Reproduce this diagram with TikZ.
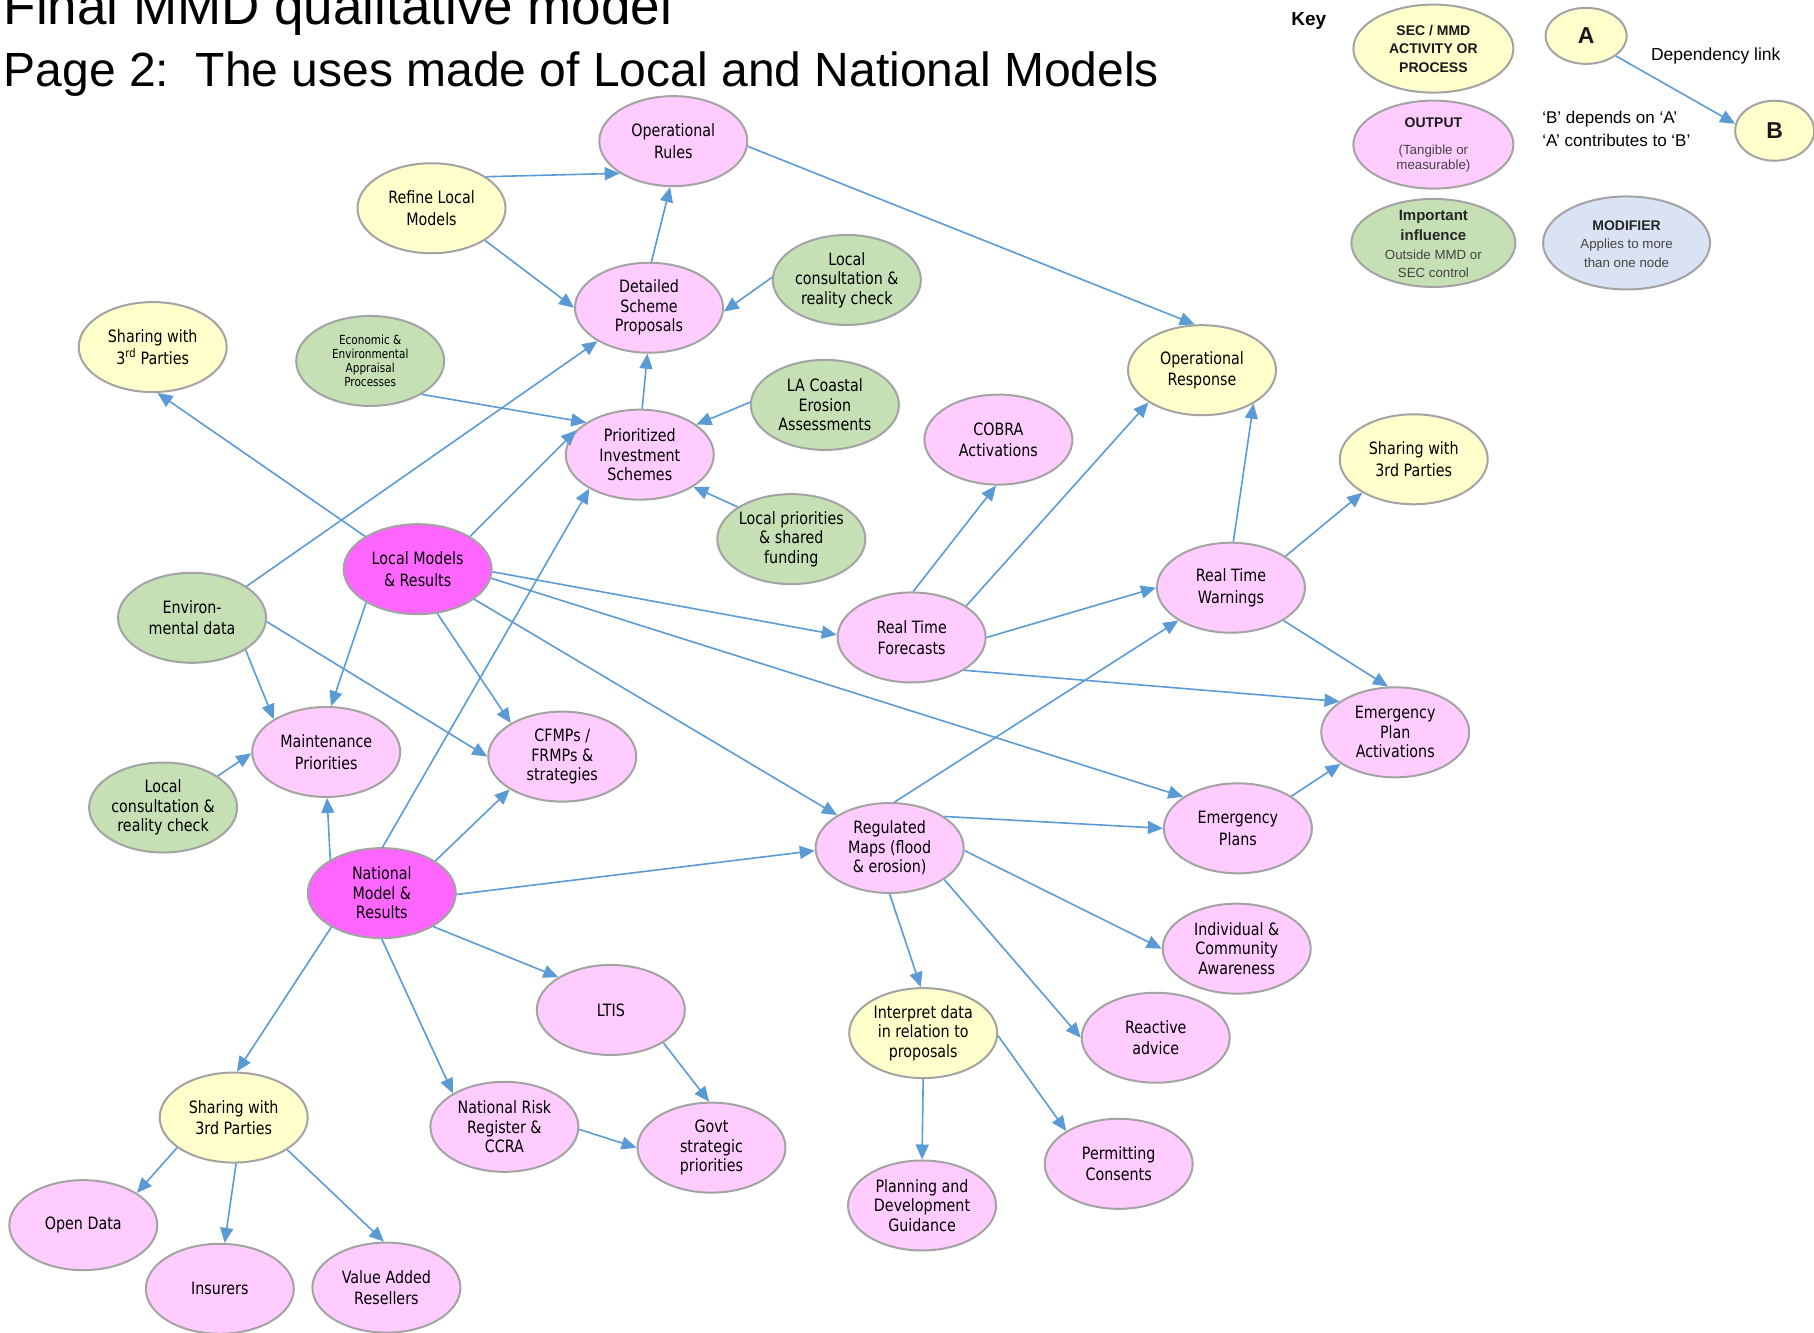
\documentclass[tikz,border=0pt]{standalone}
\usepackage{fontspec}
\usetikzlibrary{shapes.geometric,arrows.meta}
\newfontfamily\nf{DejaVu Sans}[FakeStretch=0.84]
\newfontfamily\af{Liberation Sans}
\definecolor{pk}{HTML}{FFCCFF}
\definecolor{mg}{HTML}{FF66FF}
\definecolor{yl}{HTML}{FFFFCC}
\definecolor{gr}{HTML}{C5E0B4}
\definecolor{md}{HTML}{DAE3F3}
\definecolor{bd}{HTML}{A3A3A3}
\definecolor{eb}{HTML}{5B9BD5}
\definecolor{kg}{HTML}{444444}
\newcommand\bub[5]{%
  \node[bubble, fill=#3] (#1) at (#2) {};
  \node[lbl,#5] (#1-t) at (#1.center) {#4};}
\begin{document}
\begin{tikzpicture}[x=1.15689pt,y=-1.15689pt,
  bubble/.style={ellipse, draw=bd, line width=2pt, minimum width=148pt, minimum height=90pt, inner sep=0pt},
  lbl/.style={font=\nf\fontsize{17}{21.5}\selectfont, align=center, inner sep=0pt, text=black},
  three/.style={font=\nf\fontsize{17}{19.5}\selectfont},
  tiny/.style={font=\nf\fontsize{12.5}{14}\selectfont},
  arr/.style={draw=eb, line width=1.6pt, -{Triangle[length=15pt,width=13pt]}},
  kb/.style={font=\af\bfseries\fontsize{14}{18.5}\selectfont, align=center, inner sep=0pt, text=black!90},
  ks/.style={font=\af\fontsize{13.3}{18.5}\selectfont, align=center, inner sep=0pt, text=kg},
  kt/.style={font=\af\fontsize{17}{20}\selectfont, inner sep=0pt, text=black}]
\useasboundingbox (0,0) rectangle (1568,1152);

% titles
\node[anchor=base west, inner sep=0pt, font=\af\fontsize{53}{53}\selectfont] (title1) at (3,21) {Final MMD qualitative model};
\node[anchor=base west, inner sep=0pt, font=\af\fontsize{48}{48}\selectfont] (title2) at (3,75) {Page 2:\ \ The uses made of Local and National Models};

% main nodes
\bub{oprules}{582,122}{pk}{Operational\\Rules}{}
\bub{refine}{373,180}{yl}{Refine Local\\Models}{}
\bub{detscheme}{561,266}{pk}{Detailed\\Scheme\\Proposals}{three}
\bub{localcons1}{732,242}{gr}{Local\\consultation \&\\reality check}{three}
\bub{sharing1}{132,300}{yl}{Sharing with\\3\textsuperscript{rd} Parties}{}
\bub{econenv}{320,312}{gr}{Economic \&\\Environmental\\Appraisal\\Processes}{tiny}
\bub{prioinv}{553,393}{pk}{Prioritized\\Investment\\Schemes}{three}
\bub{lacoastal}{713,350}{gr}{LA Coastal\\Erosion\\Assessments}{three}
\bub{localprio}{684,466}{gr}{Local priorities\\\& shared\\funding}{three}
\bub{cobra}{863,380}{pk}{COBRA\\Activations}{}
\bub{opresp}{1039,320}{yl}{Operational\\Response}{}
\bub{sharing2}{1222,397}{yl}{Sharing with\\3rd Parties}{}
\bub{localmodels}{361,492}{mg}{Local Models\\\& Results}{}
\bub{environ}{166,534}{gr}{Environ-\\mental data}{}
\bub{rtf}{788,551}{pk}{Real Time\\Forecasts}{}
\bub{rtw}{1064,508}{pk}{Real Time\\Warnings}{}
\bub{epa}{1206,633}{pk}{Emergency\\Plan\\Activations}{three}
\bub{maint}{282,650}{pk}{Maintenance\\Priorities}{}
\bub{cfmp}{486,654}{pk}{CFMPs /\\FRMPs \&\\strategies}{three}
\bub{localcons2}{141,698}{gr}{Local\\consultation \&\\reality check}{three}
\bub{regmaps}{769,733}{pk}{Regulated\\Maps (flood\\\& erosion)}{three}
\bub{emplans}{1070,716}{pk}{Emergency\\Plans}{}
\bub{national}{330,772}{mg}{National\\Model \&\\Results}{three}
\bub{individual}{1069,820}{pk}{Individual \&\\Community\\Awareness}{three}
\bub{ltis}{528,873}{pk}{LTIS}{}
\bub{interpret}{798,893}{yl}{Interpret data\\in relation to\\proposals}{three}
\bub{reactive}{999,897}{pk}{Reactive\\advice}{}
\bub{sharing3}{202,966}{yl}{Sharing with\\3rd Parties}{}
\bub{natrisk}{436,974}{pk}{National Risk\\Register \&\\CCRA}{three}
\bub{govt}{615,992}{pk}{Govt\\strategic\\priorities}{three}
\bub{permitting}{967,1006}{pk}{Permitting\\Consents}{}
\bub{planning}{797,1042}{pk}{Planning and\\Development\\Guidance}{three}
\bub{opendata}{72,1059}{pk}{Open Data}{}
\bub{insurers}{190,1114}{pk}{Insurers}{}
\bub{valueadded}{334,1113}{pk}{Value Added\\Resellers}{}

% key
\node[anchor=base west, inner sep=0pt, font=\af\bfseries\fontsize{19}{19}\selectfont] (keyt) at (1116,22) {Key};
\node[bubble, fill=yl, minimum width=160pt, minimum height=88pt] (keysec) at (1239,42) {};
\node[kb] (keysec-t) at (keysec.center) {SEC / MMD\\ACTIVITY OR\\PROCESS};
\node[bubble, fill=pk, minimum width=160pt, minimum height=88pt] (keyout) at (1239,125) {};
\node[kb] (keyout-t) at (1239,106) {OUTPUT};
\node[ks, font=\af\fontsize{13.3}{14.5}\selectfont] (keyout-s) at (1239,137) {(Tangible or\\measurable)};
\node[bubble, fill=gr, minimum width=164pt, minimum height=88pt] (keyimp) at (1239,210) {};
\node[kb, font=\af\bfseries\fontsize{15}{19.5}\selectfont, text=black!85] (keyimp-t) at (1239,195) {Important\\influence};
\node[ks] (keyimp-s) at (1239,228) {Outside MMD or\\SEC control};
\node[bubble, fill=md, minimum width=167pt, minimum height=93pt] (keymod) at (1406,210) {};
\node[kb, font=\af\bfseries\fontsize{14}{18}\selectfont, text=black!85] (keymod-t) at (1406,195) {MODIFIER};
\node[ks] (keymod-s) at (1406,219) {Applies to more\\than one node};
\node[bubble, fill=yl, minimum width=81pt, minimum height=56pt] (keyA) at (1371,31) {};
\node[kb, font=\af\bfseries\fontsize{23}{23}\selectfont] (keyA-t) at (keyA.center) {A};
\node[bubble, fill=yl, minimum width=79pt, minimum height=60pt] (keyB) at (1534,113) {};
\node[kb, font=\af\bfseries\fontsize{23}{23}\selectfont] (keyB-t) at (keyB.center) {B};
\node[kt, anchor=base west, font=\af\fontsize{17.5}{20}\selectfont] (keydep) at (1427,52) {Dependency link};
\node[kt, anchor=base west] (keyb1) at (1333,107) {‘B’ depends on ‘A’};
\node[kt, anchor=base west] (keyb2) at (1333,127) {‘A’ contributes to ‘B’};
\draw[arr] (keyA.326) -- (keyB.170);

% connectors
\draw[arr] (refine.30) -- (oprules.211);
\draw[arr] (refine.329) -- (detscheme.180);
\draw[arr] (detscheme.87) -- (oprules.266);
\draw[arr] (oprules.356) -- (opresp.99);
\draw[arr] (localcons1.178) -- (detscheme.357);
\draw[arr] (prioinv.87) -- (detscheme.268);
\draw[arr] (environ.30) -- (detscheme.213);
\draw[arr] (econenv.327) -- (prioinv.149);
\draw[arr] (lacoastal.178) -- (prioinv.28);
\draw[arr] (localprio.149) -- (prioinv.329);
\draw[arr] (localmodels.32) -- (prioinv.159);
\draw[arr] (national.89) -- (prioinv.214);
\draw[arr] (localmodels.148) -- (sharing1.276);
\draw[arr] (localmodels.358) -- (rtf.178);
\draw[arr] (localmodels.353) -- (emplans.150);
\draw[arr] (localmodels.332) -- (regmaps.148);
\draw[arr] (localmodels.213) -- (maint.84);
\draw[arr] (localmodels.294) -- (cfmp.147);
\draw[arr] (environ.329) -- (maint.148);
\draw[arr] (environ.357) -- (cfmp.180);
\draw[arr] (localcons2.30) -- (maint.181);
\draw[arr] (national.147) -- (maint.271);
\draw[arr] (national.31) -- (cfmp.212);
\draw[arr] (national.359) -- (regmaps.182);
\draw[arr] (national.327) -- (ltis.148);
\draw[arr] (national.214) -- (sharing3.86);
\draw[arr] (national.270) -- (natrisk.147);
\draw[arr] (ltis.328) -- (govt.93);
\draw[arr] (natrisk.358) -- (govt.180);
\draw[arr] (sharing3.208) -- (opendata.31);
\draw[arr] (sharing3.273) -- (insurers.84);
\draw[arr] (sharing3.329) -- (valueadded.93);
\draw[arr] (rtf.88) -- (cobra.267);
\draw[arr] (rtf.30) -- (opresp.211);
\draw[arr] (rtf.0) -- (rtw.180);
\draw[arr] (rtf.328) -- (epa.151);
\draw[arr] (rtw.87) -- (opresp.327);
\draw[arr] (rtw.30) -- (sharing2.213);
\draw[arr] (rtw.328) -- (epa.99);
\draw[arr] (regmaps.84) -- (rtw.212);
\draw[arr] (regmaps.30) -- (emplans.180);
\draw[arr] (regmaps.358) -- (individual.180);
\draw[arr] (regmaps.330) -- (reactive.180);
\draw[arr] (regmaps.270) -- (interpret.93);
\draw[arr] (interpret.270) -- (planning.90);
\draw[arr] (interpret.358) -- (permitting.148);
\draw[arr] (emplans.31) -- (epa.210);
\end{tikzpicture}
\end{document}
